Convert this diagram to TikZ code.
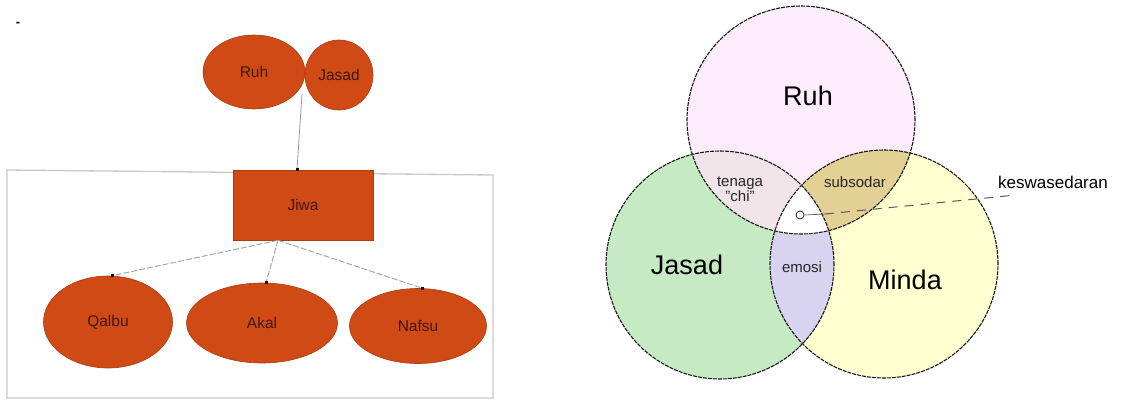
\documentclass[tikz,border=0pt]{standalone}
\usepackage{fontspec}
\setmainfont{Liberation Sans}
\usetikzlibrary{shapes.geometric,positioning}
\definecolor{rust}{RGB}{208,74,22}
\definecolor{rustline}{RGB}{170,60,20}
\definecolor{rusttext}{RGB}{60,25,10}
\definecolor{ruhpink}{RGB}{252,236,252}
\definecolor{jasadgreen}{RGB}{197,234,196}
\definecolor{mindayellow}{RGB}{255,255,208}
\definecolor{rjmix}{RGB}{240,228,232}
\definecolor{rmmix}{RGB}{226,208,148}
\definecolor{jmmix}{RGB}{216,212,240}
\definecolor{boxgray}{RGB}{200,200,200}

\tikzset{
  blob/.style={ellipse,fill=rust,draw=rustline,line width=0.6pt,
               text=rusttext,inner sep=0pt,font=\fontsize{15.5}{17}\selectfont},
  slab/.style={rectangle,fill=rust,draw=rustline,line width=0.6pt,
               text=rusttext,inner sep=0pt,font=\fontsize{15.5}{17}\selectfont},
  link/.style={draw=gray!70,line width=1pt,dash pattern=on 6pt off 2pt},
  tip/.style={fill=black,inner sep=0pt,minimum size=3pt},
  ring/.style={draw=black!90,line width=1.1pt,dash pattern=on 4pt off 1pt},
  biglbl/.style={font=\fontsize{27}{30}\selectfont},
  smalllbl/.style={font=\fontsize{15}{17}\selectfont,text=black!85},
}

\begin{document}
\begin{tikzpicture}[x=1pt,y=-1pt]
  \useasboundingbox (0,0) rectangle (1121,399);

  %,  Left: tree of Ruh / Jasad / Jiwa, 
  \node[font=\fontsize{13}{14}\selectfont\bfseries] (mark) at (18,24) {-};
  \draw[boxgray,line width=1.3pt] (7,170) -- (493,175) -- (493,398) -- (7,398) -- cycle;

  \node[blob,minimum width=102pt,minimum height=74pt] (ruhL) at (254,72) {Ruh};
  \node[blob,minimum width=68pt,minimum height=70pt] (jasadL) at (339,75) {Jasad};
  \node[slab,minimum width=140pt,minimum height=70pt] (jiwa) at (303,205) {Jiwa};

  \foreach \nm/\lbl/\xx/\yy/\ww/\hh in {
    qalbu/Qalbu/108/322/129/92,
    akal/Akal/262/323/151/80,
    nafsu/Nafsu/418/326/137/75%
  }
    \node[blob,minimum width=\ww pt,minimum height=\hh pt] (\nm) at (\xx,\yy) {\lbl};

  \coordinate (joint) at (302,94);
  \coordinate (fork) at ([xshift=-25pt]jiwa.south);
  \draw[draw=gray!80,line width=0.8pt] (joint) -- ([xshift=-6pt]jiwa.north);
  \node[tip] at ([xshift=-6pt]jiwa.north) {};
  \foreach \nm in {qalbu,akal,nafsu}{
    \draw[link] (fork) -- ([xshift=4pt]\nm.north);
    \node[tip] at ([xshift=4pt]\nm.north) {};
  }

  %,  Right: Venn of Ruh, Jasad, Minda, 
  \coordinate (cR) at (801,120);
  \coordinate (cJ) at (720,265);
  \coordinate (cM) at (884,264);
  \def\rad{114pt}

  \fill[ruhpink] (cR) circle [radius=\rad];
  \fill[jasadgreen] (cJ) circle [radius=\rad];
  \fill[mindayellow] (cM) circle [radius=\rad];
  \begin{scope}
    \clip (cR) circle [radius=\rad];
    \fill[rjmix] (cJ) circle [radius=\rad];
    \fill[rmmix] (cM) circle [radius=\rad];
  \end{scope}
  \begin{scope}
    \clip (cJ) circle [radius=\rad];
    \fill[jmmix] (cM) circle [radius=\rad];
    \clip (cM) circle [radius=\rad];
    \fill[white] (cR) circle [radius=\rad];
  \end{scope}
  \foreach \c in {cR,cJ,cM}
    \draw[ring] (\c) circle [radius=\rad];

  \node[biglbl] (ruhV) at (808,96) {Ruh};
  \node[biglbl] (jasadV) at (687,265) {Jasad};
  \node[biglbl] (minda) at (905,280) {Minda};
  \node[smalllbl,align=center] (tenaga) at (740,189) {tenaga\\[-2pt]"chi"};
  \node[smalllbl] (subsodar) at (855,182) {subsodar};
  \node[smalllbl] (emosi) at (802,267) {emosi};
  \node[font=\fontsize{17}{19}\selectfont] (kesw) at (1053,182) {keswasedaran};

  \node[circle,draw=black!85,fill=white,line width=0.8pt,inner sep=0pt,
        minimum size=8pt] (kesdot) at (800,215) {};
  \coordinate (kesmid) at (825,214);
  \coordinate (kesend) at (1016,195);
  \draw[gray!70!black,line width=0.7pt] (kesdot.east) -- (kesmid);
  \draw[gray!70!black,line width=1pt,dash pattern=on 9pt off 7pt] (kesmid) -- (kesend);

\end{tikzpicture}
\end{document}
